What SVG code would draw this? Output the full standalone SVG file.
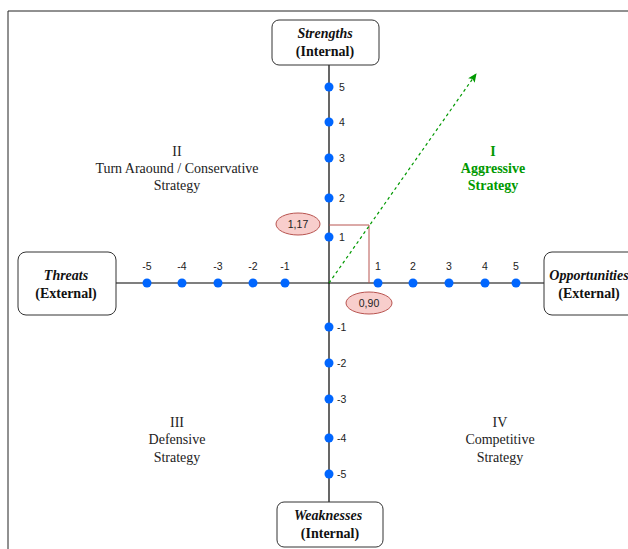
<svg xmlns="http://www.w3.org/2000/svg" width="628" height="549" viewBox="0 0 628 549">
<style>
.box{fill:#fff;stroke:#333;stroke-width:1;}
.bt{font-family:"Liberation Serif",serif;font-size:14px;font-weight:bold;text-anchor:middle;fill:#111;}
.it{font-style:italic;}
.ax{stroke:#000;stroke-width:1.2;fill:none;}
.dot{fill:#0066ff;}
.num{font-family:"Liberation Sans",Arial,sans-serif;font-size:10.5px;fill:#222;}
.q{font-family:"Liberation Serif",serif;font-size:14px;text-anchor:middle;fill:#222;}
.g{fill:#009900;font-weight:bold;}
.el{fill:#f8cecc;stroke:#b85450;stroke-width:1;}
.et{font-family:"Liberation Sans",Arial,sans-serif;font-size:10.5px;text-anchor:middle;fill:#222;}
</style>
<defs>
<marker id="ga" markerWidth="10" markerHeight="10" refX="8" refY="5" orient="auto" markerUnits="userSpaceOnUse">
<path d="M0,1 L9,5 L0,9 L2,5 Z" fill="#009900"/>
</marker>
</defs>
<rect width="628" height="549" fill="#fff"/>
<path d="M8,549 L8,11 L628,11" fill="none" stroke="#222" stroke-width="1"/>
<g id="connectors">
<line class="ax" x1="329" y1="65" x2="329" y2="502"/>
<line class="ax" x1="116" y1="283" x2="544" y2="283"/>
<path d="M329,225 L369,225 L369,283" fill="none" stroke="#b85450" stroke-width="1"/>
<line x1="329" y1="283" x2="476" y2="74" stroke="#009900" stroke-width="1.2" stroke-dasharray="3,3" marker-end="url(#ga)"/>
</g>
<g id="strengths"><rect class="box" x="272" y="20" width="107" height="45" rx="7"/>
<text class="bt it" x="325" y="38">Strengths</text><text class="bt" x="325" y="56">(Internal)</text></g>
<g id="threats"><rect class="box" x="18" y="252" width="98" height="63" rx="8"/>
<text class="bt it" x="66" y="280">Threats</text><text class="bt" x="66" y="298">(External)</text></g>
<g id="opportunities"><rect class="box" x="544" y="252" width="96" height="63" rx="8"/>
<text class="bt it" x="589" y="280">Opportunities</text><text class="bt" x="589" y="298">(External)</text></g>
<g id="weaknesses"><rect class="box" x="277" y="502" width="106" height="45" rx="7"/>
<text class="bt it" x="328" y="520">Weaknesses</text><text class="bt" x="330" y="538">(Internal)</text></g>
<g id="ticks-y">
<circle class="dot" cx="329" cy="87" r="4.5"/><text class="num" x="339" y="91">5</text>
<circle class="dot" cx="329" cy="122" r="4.5"/><text class="num" x="339" y="126">4</text>
<circle class="dot" cx="329" cy="158" r="4.5"/><text class="num" x="339" y="162">3</text>
<circle class="dot" cx="329" cy="198" r="4.5"/><text class="num" x="339" y="202">2</text>
<circle class="dot" cx="329" cy="237" r="4.5"/><text class="num" x="339" y="241">1</text>
<circle class="dot" cx="329" cy="327" r="4.5"/><text class="num" x="337" y="331">-1</text>
<circle class="dot" cx="329" cy="363" r="4.5"/><text class="num" x="337" y="367">-2</text>
<circle class="dot" cx="329" cy="399" r="4.5"/><text class="num" x="337" y="403">-3</text>
<circle class="dot" cx="329" cy="438" r="4.5"/><text class="num" x="337" y="442">-4</text>
<circle class="dot" cx="329" cy="474" r="4.5"/><text class="num" x="337" y="478">-5</text>
</g>
<g id="ticks-x">
<circle class="dot" cx="147" cy="283" r="4.5"/><text class="num" x="147" y="270" text-anchor="middle">-5</text>
<circle class="dot" cx="182" cy="283" r="4.5"/><text class="num" x="182" y="270" text-anchor="middle">-4</text>
<circle class="dot" cx="218" cy="283" r="4.5"/><text class="num" x="218" y="270" text-anchor="middle">-3</text>
<circle class="dot" cx="253" cy="283" r="4.5"/><text class="num" x="253" y="270" text-anchor="middle">-2</text>
<circle class="dot" cx="285" cy="283" r="4.5"/><text class="num" x="285" y="270" text-anchor="middle">-1</text>
<circle class="dot" cx="378" cy="283" r="4.5"/><text class="num" x="378" y="270" text-anchor="middle">1</text>
<circle class="dot" cx="413" cy="283" r="4.5"/><text class="num" x="413" y="270" text-anchor="middle">2</text>
<circle class="dot" cx="449" cy="283" r="4.5"/><text class="num" x="449" y="270" text-anchor="middle">3</text>
<circle class="dot" cx="485" cy="283" r="4.5"/><text class="num" x="485" y="270" text-anchor="middle">4</text>
<circle class="dot" cx="516" cy="283" r="4.5"/><text class="num" x="516" y="270" text-anchor="middle">5</text>
</g>
<g id="val-y"><ellipse class="el" cx="298" cy="224" rx="22" ry="11"/><text class="et" x="298" y="228">1,17</text></g>
<g id="val-x"><ellipse class="el" cx="369" cy="303" rx="23" ry="11"/><text class="et" x="369" y="307">0,90</text></g>
<g id="q1"><text class="q g" x="493" y="156">I</text><text class="q g" x="493" y="173">Aggressive</text><text class="q g" x="493" y="190">Strategy</text></g>
<g id="q2"><text class="q" x="177" y="156">II</text><text class="q" x="177" y="173">Turn Araound / Conservative</text><text class="q" x="177" y="190">Strategy</text></g>
<g id="q3"><text class="q" x="177" y="427">III</text><text class="q" x="177" y="444">Defensive</text><text class="q" x="177" y="462">Strategy</text></g>
<g id="q4"><text class="q" x="500" y="427">IV</text><text class="q" x="500" y="444">Competitive</text><text class="q" x="500" y="462">Strategy</text></g>
</svg>
